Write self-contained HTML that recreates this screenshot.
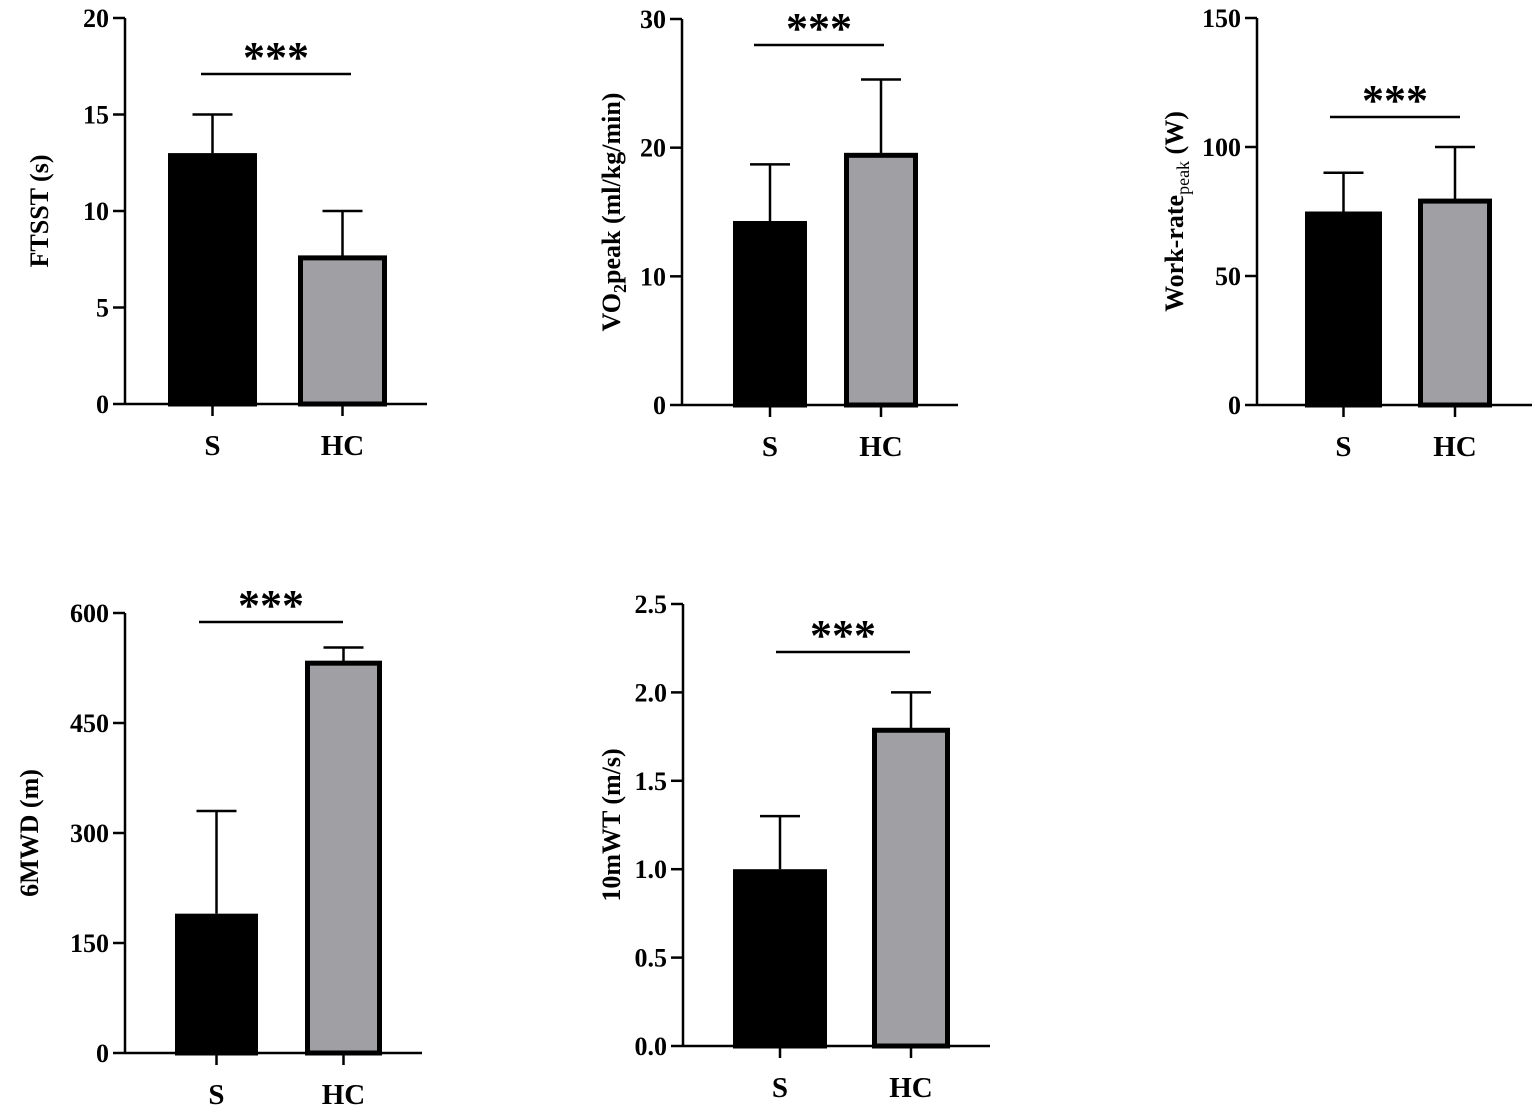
<!DOCTYPE html>
<html><head><meta charset="utf-8"><style>
html,body{margin:0;padding:0;background:#fff}
svg{display:block}
text{font-family:"Liberation Serif",serif;font-weight:bold;fill:#000}
</style></head><body>
<svg id="chart" width="1535" height="1115" viewBox="0 0 1535 1115"></svg>
<script>
const categories = ["S","HC"];
const ftsstMeans = [13, 7.7];
const ftsstUpper = [15, 10];
const ftsstLower = [11, 6.4];
const vo2Means = [14.3, 19.6];
const vo2Upper = [18.7, 25.3];
const vo2Lower = [10, 16.3];
const workMeans = [75, 80];
const workUpper = [90, 100];
const workLower = [60, 70];
const mwdMeans = [190, 535];
const mwdUpper = [330, 553];
const mwdLower = [50, 493];
const walkMeans = [1.0, 1.8];
const walkUpper = [1.3, 2.0];
const walkLower = [0.7, 1.6];
const ftsstTicks = ["0","5","10","15","20"];
const vo2Ticks = ["0","10","20","30"];
const workTicks = ["0","50","100","150"];
const mwdTicks = ["0","150","300","450","600"];
const walkTicks = ["0.0","0.5","1.0","1.5","2.0","2.5"];
const sigLabel = "***";

const NS="http://www.w3.org/2000/svg";
const svg=document.getElementById('chart');
function mk(tag,attrs,parent){const e=document.createElementNS(NS,tag);for(const k in attrs)e.setAttribute(k,attrs[k]);(parent||svg).appendChild(e);return e;}

const panels=[
 {name:'ftsst',ax:125,y0:404,y1:18,max:20,ticks:ftsstTicks,means:ftsstMeans,up:ftsstUpper,lo:ftsstLower,bars:[[168,257],[298,387]],sig:[74,201,351],title:'FTSST (s)',tx:40},
 {name:'vo2',ax:682,y0:405,y1:19,max:30,ticks:vo2Ticks,means:vo2Means,up:vo2Upper,lo:vo2Lower,bars:[[733,807],[844,918]],sig:[45,754,884],title:'VO2peak',tx:612},
 {name:'work-rate',ax:1257,y0:405,y1:18,max:150,ticks:workTicks,means:workMeans,up:workUpper,lo:workLower,bars:[[1305,1382],[1418,1492]],sig:[117,1330,1460],title:'Work-rate',tx:1175},
 {name:'6mwd',ax:125,y0:1053,y1:613,max:600,ticks:mwdTicks,means:mwdMeans,up:mwdUpper,lo:mwdLower,bars:[[175,258],[305,382]],sig:[622,199,343],title:'6MWD (m)',tx:30},
 {name:'10mwt',ax:683,y0:1046,y1:604,max:2.5,ticks:walkTicks,means:walkMeans,up:walkUpper,lo:walkLower,bars:[[733,827],[872,950]],sig:[652,776,910],title:'10mWT (m/s)',tx:612}
];

panels.forEach(p=>{
 const g=mk('g',{});
 
 
 const y=v=>p.y0-(v/p.max)*(p.y0-p.y1);
 const n=p.ticks.length;
 p.means.forEach((m,i)=>{
  const [x0,x1]=p.bars[i];const cx=(x0+x1)/2;
  const top=y(m);
  const eb=mk('line',{x1:cx,x2:cx,y1:y(p.up[i]),y2:(i==0?top:y(p.lo[i])),stroke:'#000','stroke-width':2.5},g);
  
  
  mk('line',{x1:cx-20,x2:cx+20,y1:y(p.up[i]),y2:y(p.up[i]),stroke:'#000','stroke-width':2.5},g);
  if(i==1) mk('line',{x1:cx-20,x2:cx+20,y1:y(p.lo[i]),y2:y(p.lo[i]),stroke:'#000','stroke-width':2.5},g);
  const r=mk('rect',{x:x0+2.5,y:top+2.5,width:x1-x0-5,height:p.y0-top-2.5,fill:i==0?'#000':'#a0a0a4',stroke:'#000','stroke-width':5},g);
  
  
  const t=mk('text',{x:cx,y:p.y0+51,'text-anchor':'middle','font-size':29},g);
  t.textContent=categories[i];
  
  
  mk('line',{x1:cx,x2:cx,y1:p.y0,y2:p.y0+12,stroke:'#000','stroke-width':2.5},g);
 });
 const ya=mk('line',{x1:p.ax,x2:p.ax,y1:p.y1,y2:p.y0+1,stroke:'#000','stroke-width':2.5},g);
 
 
 const xa=mk('line',{x1:p.ax,x2:p.bars[1][1]+40,y1:p.y0,y2:p.y0,stroke:'#000','stroke-width':2.5},g);
 
 
 p.ticks.forEach((lab,k)=>{
  const ty=p.y0-k*(p.y0-p.y1)/(n-1);
  mk('line',{x1:p.ax-12,x2:p.ax,y1:ty,y2:ty,stroke:'#000','stroke-width':2.5},g);
  const t=mk('text',{x:p.ax-16,y:ty+9,'text-anchor':'end','font-size':26},g);
  t.textContent=lab;
  
  
 });
 const [sy,sx0,sx1]=p.sig;
 const sl=mk('line',{x1:sx0,x2:sx1,y1:sy,y2:sy,stroke:'#000','stroke-width':2.5},g);
 
 
 const st=mk('text',{x:(sx0+sx1)/2,y:sy-2,'text-anchor':'middle','font-size':44},g);
 st.textContent=sigLabel;
 
 
 const cy=(p.y0+p.y1)/2;
 const tt=mk('text',{x:0,y:0,'text-anchor':'middle','font-size':26,transform:`translate(${p.tx+8},${cy}) rotate(-90)`},g);
 
 
 if(p.name==='vo2'){
  tt.innerHTML='VO<tspan font-size="18" dy="6">2</tspan><tspan dy="-6">peak (ml/kg/min)</tspan>';
 } else if(p.name==='work-rate'){
  tt.innerHTML='Work-rate<tspan font-size="18" font-weight="normal" dy="6">peak</tspan><tspan dy="-6"> (W)</tspan>';
 } else tt.textContent=p.title;
});
</script>
</body></html>
